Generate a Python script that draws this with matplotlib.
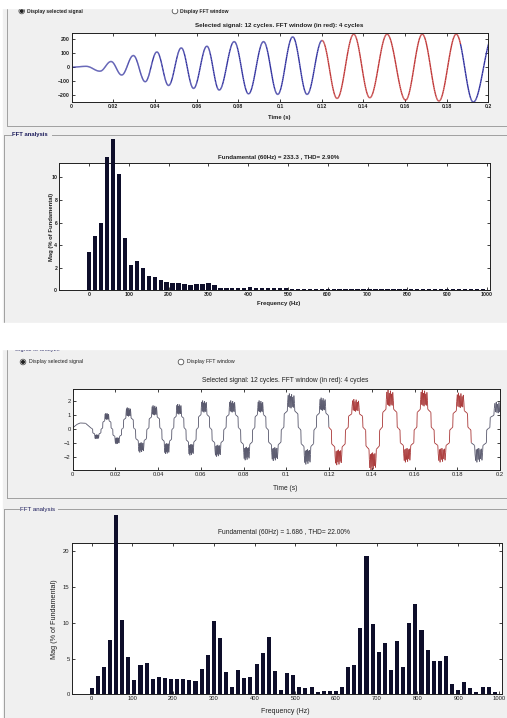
import numpy as np
import matplotlib.pyplot as plt
from matplotlib.patches import Rectangle, Circle
from matplotlib.collections import LineCollection

plt.rcParams['font.family'] = ['Liberation Sans', 'DejaVu Sans']

W, H = 507, 718

## ---- data ----
# FFT bins, 15 Hz resolution (4-cycle window at 60 Hz)
freq = np.arange(0, 1000, 15)

# top case: sine signal, THD 2.90 %
mag1 = [3.4, 4.85, 6.0, 11.8, 13.4, 10.3, 4.6, 2.2, 2.6, 1.95,
        1.3, 1.15, 0.9, 0.75, 0.68, 0.65, 0.52, 0.45, 0.52, 0.52,
        0.68, 0.45, 0.24, 0.22, 0.22, 0.22, 0.2, 0.25, 0.18, 0.22,
        0.17, 0.16, 0.16, 0.16, 0.15, 0.15, 0.14, 0.15, 0.14, 0.14,
        0.14, 0.14, 0.13, 0.14, 0.13, 0.13, 0.13, 0.13, 0.12, 0.13,
        0.12, 0.12, 0.12, 0.12, 0.12, 0.12, 0.11, 0.12, 0.11, 0.11,
        0.11, 0.11, 0.11, 0.11, 0.1, 0.11, 0.1]

# bottom case: stepped inverter signal, THD 22.00 %
mag2 = [0.84, 2.6, 3.8, 7.6, 25.1, 10.4, 5.25, 2.0, 4.05, 4.33,
        2.19, 2.47, 2.28, 2.09, 2.09, 2.19, 1.95, 1.81, 3.53, 5.44,
        10.19, 7.9, 3.16, 1.02, 3.4, 2.23, 2.47, 4.19, 5.81, 8.05,
        3.3, 0.6, 2.98, 2.74, 0.98, 0.93, 1.02, 0.37, 0.51, 0.51,
        0.42, 1.02, 3.81, 4.05, 9.26, 19.3, 9.81, 5.95, 7.12, 3.35,
        7.4, 3.81, 10.0, 12.65, 8.98, 6.19, 4.65, 4.6, 5.4, 1.44,
        0.6, 1.67, 0.84, 0.28, 1.02, 1.02, 0.28]

# top signal: peaks / troughs (time s, value)
sig1_t = [0, 0.007, 0.0136, 0.0189, 0.024, 0.0296, 0.0353, 0.0409, 0.0465,
          0.0526, 0.0585, 0.0649, 0.0708, 0.078, 0.0849, 0.0921, 0.0989,
          0.1061, 0.113, 0.1202, 0.1274, 0.1354, 0.1431, 0.1514, 0.1603,
          0.1683, 0.1763, 0.1846, 0.1928, 0.2025]
sig1_v = [0, 6, -29, 41, -57, 84, -105, 110, -132, 139, -153, 151, -165,
          184, -192, 184, -196, 218, -196, 192, -225, 237, -220, 237, -237,
          237, -244, 237, -251, 235]

# bottom signal: start-up part, then half cycles (centre time, peak)
sig2_lead_t = [0, 0.002, 0.0035, 0.006, 0.0085]
sig2_lead_v = [0.05, 0.3, 0.4, 0.38, 0.05]
half_c = [0.0113, 0.0160, 0.0207, 0.0259, 0.0319, 0.0385, 0.0440, 0.0497,
          0.0554, 0.0612, 0.0680, 0.0745, 0.0816, 0.0879, 0.0941, 0.1023,
          0.1101, 0.1169, 0.1240, 0.1326, 0.1404, 0.1482, 0.1569, 0.1640,
          0.1729, 0.1815, 0.1898, 0.1992]
half_a = [-0.74, 1.1, -1.1, 1.5, -1.7, 1.65, -1.8, 1.75, -1.9, 2.0, -2.0,
          2.0, -2.25, 2.0, -2.3, 2.5, -2.55, 2.2, -2.6, 2.1, -2.95, 2.75,
          -2.4, 2.75, -2.4, 2.55, -2.4, 1.9]

win_start, win_end = 0.12, 0.1867

## ---- styles ----
GREY = '#f0f0f0'
EDGE = '#a0a0a0'
BAR = '#0e0e2a'
BLUE = '#2e2e9e'
RED = '#c03636'
DARK = '#55556a'
RED2 = '#a83434'

# shape of one stepped half cycle (fraction of period, fraction of peak)
rip_u = np.linspace(0.30, 0.70, 13)
rip_v = [0.75, 0.95, 0.62, 1.0, 0.6, 0.92, 0.58, 0.98, 0.62, 0.9, 0.6,
         0.94, 0.72]
shape_u = np.concatenate([[0, 0.08, 0.10, 0.28], rip_u, [0.72, 0.90, 0.92, 1.0]])
shape_v = np.concatenate([[0, 0.04, 0.42, 0.5], rip_v, [0.5, 0.42, 0.04, 0]])


def wave_through(tp, vp, n=40):
    # smooth half-cosine between consecutive extrema
    ts, vs = [], []
    for i in range(len(tp) - 1):
        s = np.linspace(0, 1, n, endpoint=False)
        ts.append(tp[i] + s * (tp[i + 1] - tp[i]))
        vs.append(vp[i] + (vp[i + 1] - vp[i]) * (1 - np.cos(np.pi * s)) / 2)
    return np.concatenate(ts), np.concatenate(vs)


def stepped(c, a):
    c = np.array(c)
    b = np.concatenate([[c[0] - (c[1] - c[0]) / 2], (c[:-1] + c[1:]) / 2,
                        [c[-1] + (c[-1] - c[-2]) / 2]])
    ts, vs = list(sig2_lead_t), list(sig2_lead_v)
    for k in range(len(c)):
        ts += list(b[k] + shape_u * (b[k + 1] - b[k]))
        vs += list(a[k] * shape_v)
    return np.array(ts), np.array(vs)


def colored_line(ax, t, v, c_out, c_in, lw):
    pts = np.column_stack([t, v])
    segs = np.stack([pts[:-1], pts[1:]], axis=1)
    mid = (t[:-1] + t[1:]) / 2
    cols = [c_in if win_start <= m <= win_end else c_out for m in mid]
    ax.add_collection(LineCollection(segs, colors=cols, linewidths=lw))


def px_axes(l, t, r, b):
    return fig.add_axes([l / W, 1 - b / H, (r - l) / W, (b - t) / H])


def style(ax, size, bold):
    for sp in ax.spines.values():
        sp.set_linewidth(0.7)
        sp.set_color('#202020')
    ax.tick_params(direction='in', length=2.5, width=0.6, top=True, right=True,
                   labelsize=size, pad=1.5, colors='#202020')
    for lab in ax.get_xticklabels() + ax.get_yticklabels():
        lab.set_fontweight('bold' if bold else 'normal')


fig = plt.figure(figsize=(W / 100, H / 100), dpi=100)
bg = fig.add_axes([0, 0, 1, 1])
bg.set_xlim(0, W)
bg.set_ylim(H, 0)
bg.axis('off')

# screenshot backgrounds
bg.add_patch(Rectangle((3, 0), W, 323, color=GREY, zorder=0))
bg.add_patch(Rectangle((3, 340), W, H - 340, color=GREY, zorder=0))

# panel frames
kw = dict(color=EDGE, lw=0.7, zorder=1)
bg.plot([7, 7, W], [0, 126, 126], **kw)
bg.plot([4, 4], [135, 323], **kw)
bg.plot([4, 11], [135, 135], **kw)
bg.plot([52, W], [135, 135], **kw)
bg.plot([7, 7, W], [498, 349, 349], **kw)
bg.plot([7, 14], [349, 349], **kw)
bg.plot([4, 4], [509, H], **kw)
bg.plot([4, 19], [509, 509], **kw)
bg.plot([58, W], [509, 509], **kw)
bg.plot([7, W], [498, 498], **kw)
bg.add_patch(Rectangle((14, 345), 63, 8, color=GREY, zorder=1.5))


def label(x, y, s, size, bold=False, ha='left', rot=0, color='#202020'):
    bg.text(x, y, s, fontsize=size, fontweight='bold' if bold else 'normal',
            ha=ha, va='center', rotation=rot, color=color, zorder=2)


def radio(x, y, filled):
    bg.add_patch(Circle((x, y), 2.8, facecolor='white', edgecolor='#555555',
                        lw=0.6, zorder=2))
    if filled:
        bg.add_patch(Circle((x, y), 1.3, color='#202020', zorder=3))


# --- top screenshot texts ---
radio(21.7, 11, True)
label(27, 11, 'Display selected signal', 3.6, True)
radio(175, 11, False)
label(180, 11, 'Display FFT window', 3.6, True)
label(279, 26, 'Selected signal: 12 cycles. FFT window (in red): 4 cycles', 4.5, True, 'center')
label(279, 117, 'Time (s)', 4.2, True, 'center')
label(12, 134.5, 'FFT analysis', 4.2, True, color='#1a1a5a')
label(279, 157, 'Fundamental (60Hz) = 233.3 , THD= 2.90%', 4.4, True, 'center')
label(51, 227, 'Mag (% of Fundamental)', 4.2, True, 'center', 90)
label(279, 304, 'Frequency (Hz)', 4.3, True, 'center')

# --- bottom screenshot texts ---
label(15, 349, 'Signal to analyze', 4.2, color='#1a1a5a')
radio(23, 362, True)
label(29, 362, 'Display selected signal', 3.8)
radio(181, 362, False)
label(187, 362, 'Display FFT window', 3.8)
label(285.5, 381, 'Selected signal: 12 cycles. FFT window (in red): 4 cycles', 4.8, False, 'center')
label(285.5, 488, 'Time (s)', 4.8, False, 'center')
label(20.5, 509, 'FFT analysis', 4.4, color='#1a1a5a')
label(284, 533, 'Fundamental (60Hz) = 1.686 , THD= 22.00%', 4.8, False, 'center')
label(54, 619, 'Mag (% of Fundamental)', 5.2, False, 'center', 90)
label(285, 711.5, 'Frequency (Hz)', 5.0, False, 'center')

# white cut-off strips of the screenshots
bg.add_patch(Rectangle((0, 0), W, 7.5, color='white', zorder=5))
bg.add_patch(Rectangle((0, 323), W, 26, color='white', zorder=5))

tticks = [0, 0.02, 0.04, 0.06, 0.08, 0.1, 0.12, 0.14, 0.16, 0.18, 0.2]
tlabels = ['0', '0.02', '0.04', '0.06', '0.08', '0.1', '0.12', '0.14', '0.16', '0.18', '0.2']
fticks = list(range(0, 1001, 100))

# ---- top signal ----
ax1 = px_axes(71.7, 33.3, 488.3, 102.3)
t, v = wave_through(sig1_t, sig1_v)
colored_line(ax1, t, v, BLUE, RED, 1.0)
ax1.set_xlim(0, 0.2)
ax1.set_ylim(-252, 243)
ax1.set_xticks(tticks)
ax1.set_xticklabels(tlabels)
ax1.set_yticks([-200, -100, 0, 100, 200])
style(ax1, 3.7, True)

# ---- top FFT ----
ax2 = px_axes(59.3, 163.3, 490, 290.3)
ax2.bar(freq, mag1, width=11, color=BAR, clip_on=False, zorder=3)
ax2.set_xlim(-75, 1008)
ax2.set_ylim(0, 11.25)
ax2.set_xticks(fticks)
ax2.set_yticks([0, 2, 4, 6, 8, 10])
style(ax2, 3.7, True)

# ---- bottom signal ----
ax3 = px_axes(72.7, 389.3, 500, 470)
t, v = stepped(half_c, half_a)
colored_line(ax3, t, v, DARK, RED2, 0.6)
ax3.set_xlim(0, 0.2)
ax3.set_ylim(-2.95, 2.8)
ax3.set_xticks(tticks)
ax3.set_xticklabels(tlabels)
ax3.set_yticks([-2, -1, 0, 1, 2])
style(ax3, 4.2, False)

# ---- bottom FFT ----
ax4 = px_axes(71.7, 542.7, 501.7, 694.3)
ax4.bar(freq, mag2, width=10, color=BAR, clip_on=False, zorder=3)
ax4.set_xlim(-49, 1007)
ax4.set_ylim(0, 21.2)
ax4.set_xticks(fticks)
ax4.set_yticks([0, 5, 10, 15, 20])
style(ax4, 4.2, False)

fig.savefig('out.png', dpi=100)
